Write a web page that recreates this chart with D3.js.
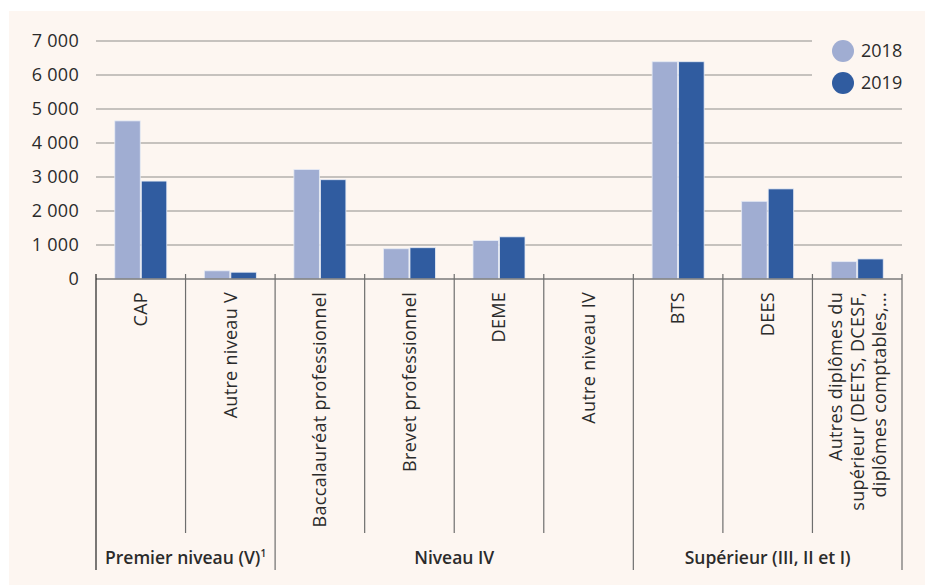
<!DOCTYPE html>
<html>
<head>
  <meta charset="utf-8">
  <script src="https://d3js.org/d3.v7.min.js"></script>
  <style>
    body { margin: 0; background: #fff; }
    text { font-family: "Open Sans", sans-serif; fill: #2b2b2b; }
  </style>
</head>
<body>
  <div id="chart"></div>

  <script>
    const categories = [
      ["CAP"],
      ["Autre niveau V"],
      ["Baccalauréat professionnel"],
      ["Brevet professionnel"],
      ["DEME"],
      ["Autre niveau IV"],
      ["BTS"],
      ["DEES"],
      ["Autres diplômes du", "supérieur (DEETS, DCESF,", "diplômes comptables,..."]
    ];
    const years = ["2018", "2019"];
    const values2018 = [4650, 240, 3220, 890, 1130, 0, 6390, 2285, 510];
    const values2019 = [2880, 200, 2920, 920, 1240, 0, 6390, 2650, 590];
    const groups = [
      { label: "Premier niveau (V)", sup: "1", from: 0, to: 1 },
      { label: "Niveau IV", sup: "", from: 2, to: 5 },
      { label: "Supérieur (III, II et I)", sup: "", from: 6, to: 8 }
    ];
    const yTicks = [0, 1000, 2000, 3000, 4000, 5000, 6000, 7000];
    const colors = { "2018": "#a0add2", "2019": "#305ca0" };

    const width = 925;
    const height = 585;
    const margin = { top: 41, left: 96, right: 23, bottom: 306 };
    const baseY = height - margin.bottom;

    const svg = d3.select("#chart")
      .append("svg")
      .attr("width", width)
      .attr("height", height);

    svg.append("rect")
      .attr("x", 9).attr("y", 11)
      .attr("width", width - 9).attr("height", height - 11)
      .attr("fill", "#fdf6f1");

    const idx = categories.map((d, i) => i);
    const x = d3.scaleBand()
      .domain(idx)
      .range([margin.left, width - margin.right]);

    const y = d3.scaleLinear()
      .domain([0, 7000])
      .range([baseY, margin.top]);

    // grid
    svg.append("g")
      .selectAll("line")
      .data(yTicks.filter(d => d > 0))
      .join("line")
      .attr("x1", margin.left)
      .attr("x2", d => d >= 6000 ? 812 : width - margin.right)
      .attr("y1", d => y(d))
      .attr("y2", d => y(d))
      .attr("stroke", "#b3b0ad")
      .attr("stroke-width", 1.3);

    // y labels
    const fmt = d => d === 0 ? "0" : d3.format(",")(d).replace(",", " ");
    svg.append("g")
      .selectAll("text")
      .data(yTicks)
      .join("text")
      .attr("x", 79)
      .attr("y", d => y(d))
      .attr("dy", "0.35em")
      .attr("text-anchor", "end")
      .attr("font-size", 18)
      .attr("letter-spacing", 0.3)
      .text(fmt);

    // bars
    const x1 = d3.scaleBand()
      .domain(years)
      .range([0, 52])
      .paddingInner(0.04);
    const series = { "2018": values2018, "2019": values2019 };

    svg.append("g")
      .selectAll("g")
      .data(idx)
      .join("g")
      .attr("transform", i => `translate(${x(i) + x.bandwidth() / 2 - 26},0)`)
      .selectAll("rect")
      .data(i => years.map(yr => ({ yr, v: series[yr][i] })).filter(d => d.v > 0))
      .join("rect")
      .attr("x", d => x1(d.yr))
      .attr("width", x1.bandwidth())
      .attr("y", d => y(d.v))
      .attr("height", d => baseY - y(d.v))
      .attr("fill", d => colors[d.yr])
      .attr("stroke", "#e6ebf5")
      .attr("stroke-width", 0.8);

    // axis line
    svg.append("line")
      .attr("x1", margin.left).attr("x2", width - margin.right)
      .attr("y1", baseY).attr("y2", baseY)
      .attr("stroke", "#7a7a7a")
      .attr("stroke-width", 1.5);

    // separators
    const groupEdges = [0, 2, 6, 9];
    const edges = d3.range(0, categories.length + 1);
    svg.append("g")
      .selectAll("line")
      .data(edges)
      .join("line")
      .attr("x1", i => i === 9 ? x(8) + x.bandwidth() : x(i))
      .attr("x2", i => i === 9 ? x(8) + x.bandwidth() : x(i))
      .attr("y1", baseY - 5)
      .attr("y2", i => groupEdges.includes(i) ? 570 : 533)
      .attr("stroke", i => i === 0 ? "#222" : "#6e6e6e")
      .attr("stroke-width", 1.2);

    // category labels
    const catLabels = svg.append("g")
      .selectAll("text")
      .data(idx)
      .join("text")
      .attr("text-anchor", "end")
      .attr("font-size", 18)
      .attr("letter-spacing", 0.3)
      .attr("transform", i => `translate(${x(i) + x.bandwidth() / 2},${baseY + 13}) rotate(-90)`);
    catLabels.selectAll("tspan")
      .data(i => categories[i].map((t, k, arr) => ({ t, k, n: arr.length })))
      .join("tspan")
      .attr("x", 0)
      .attr("y", d => (d.k - (d.n - 1) / 2) * 22)
      .attr("dy", "0.35em")
      .text(d => d.t);

    // group labels
    const gl = svg.append("g")
      .selectAll("text")
      .data(groups)
      .join("text")
      .attr("x", g => (x(g.from) + x(g.to) + x.bandwidth()) / 2)
      .attr("y", 564)
      .attr("text-anchor", "middle")
      .attr("font-size", 17.5)
      .attr("font-weight", 600);
    gl.append("tspan").text(g => g.label);
    gl.append("tspan")
      .attr("font-size", 10)
      .attr("dy", -7)
      .text(g => g.sup);

    // legend
    const legend = svg.append("g")
      .selectAll("g")
      .data(years)
      .join("g")
      .attr("transform", (d, i) => `translate(843,${51 + i * 32})`);
    legend.append("circle")
      .attr("r", 11)
      .attr("fill", d => colors[d]);
    legend.append("text")
      .attr("x", 18)
      .attr("dy", "0.35em")
      .attr("font-size", 18)
      .text(d => d);
  </script>
</body>
</html>
